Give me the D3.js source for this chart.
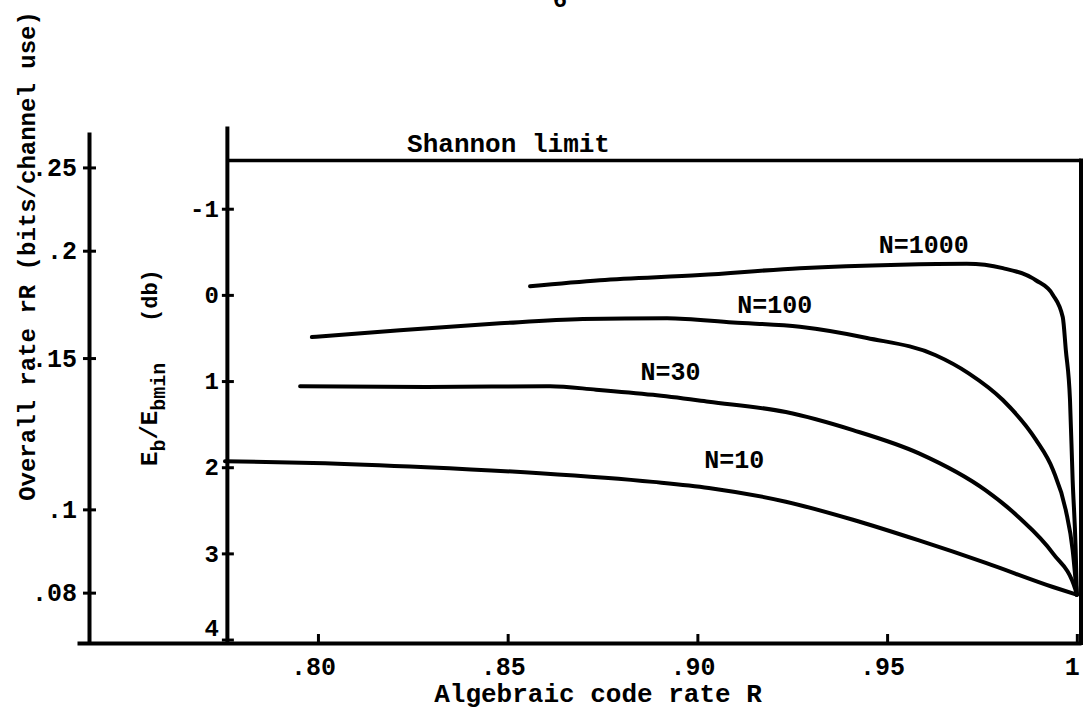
<!DOCTYPE html>
<html>
<head>
<meta charset="utf-8">
<script src="https://cdn.jsdelivr.net/npm/d3@7"></script>
<style>
  body { margin: 0; background: #fff; }
  svg { display: block; }
  text { font-family: "Liberation Mono", "DejaVu Sans Mono", monospace; font-weight: bold; fill: #000; }
</style>
</head>
<body>
<svg id="chart" width="1086" height="710"></svg>
<script>
// values
const shannon_db = -1.56;

const rate_ticks = [.25, .2, .15, .1, .08];
const rate_tick_labels = [".25", ".2", ".15", ".1", ".08"];

const db_ticks = [-1, 0, 1, 2, 3, 4];
const db_tick_labels = ["-1", "0", "1", "2", "3", "4"];

const code_rate_ticks = [.80, .85, .90, .95, 1];
const code_rate_tick_labels = [".80", ".85", ".90", ".95", "1"];

const curve_names = ["N=1000", "N=100", "N=30", "N=10"];

const n1000_r  = [.8559, .8743, .9007, .9270, .9534, .9710, .9805, .9892, .9937, .9963, .9971, .9982, .9989, .9997, 1.0];
const n1000_db = [-.10, -.17, -.23, -.31, -.35, -.36, -.31, -.17, 0.00, .26, .64, 1.22, 2.15, 2.96, 3.48];

const n100_r  = [.7984, .8216, .8480, .8698, .8920, .9094, .9270, .9447, .9628, .9715, .9805, .9892, .9937, .9971, .9989, 1.0];
const n100_db = [.49, .41, .33, .28, .27, .32, .37, .50, .70, .91, 1.22, 1.68, 2.03, 2.50, 2.96, 3.48];

const n30_r  = [.7953, .8285, .8612, .8733, .8883, .9030, .9233, .9410, .9584, .9760, .9847, .9937, .9997, 1.0];
const n30_db = [1.06, 1.07, 1.06, 1.10, 1.16, 1.24, 1.36, 1.57, 1.84, 2.27, 2.58, 3.00, 3.43, 3.48];

const n10_r  = [.7755, .7987, .8285, .8585, .8883, .9030, .9233, .9410, .9584, .9760, .9937, 1.0];
const n10_db = [1.93, 1.95, 2.00, 2.07, 2.17, 2.24, 2.40, 2.61, 2.85, 3.11, 3.39, 3.48];

const series = [
    {name: curve_names[0], r: n1000_r, db: n1000_db},
    {name: curve_names[1], r: n100_r, db: n100_db},
    {name: curve_names[2], r: n30_r, db: n30_db},
    {name: curve_names[3], r: n10_r, db: n10_db}
];

let svg = d3.select("#chart");

let x = d3.scaleLinear().domain([.7365, 1.0011]).range([77, 1081]);
let y = d3.scaleLinear().domain([-1.96, 4.04]).range([126, 643]);
let rate = d3.scaleLog().domain([.0699, .2749]).range([643, 132]);

let db_axis_x = x(.776);

function style_axis(g, fontSize) {
    g.attr("font-family", null).attr("font-size", null);
    g.select(".domain").attr("stroke", "#000").attr("stroke-width", 4);
    g.selectAll(".tick line").attr("stroke", "#000").attr("stroke-width", 3);
    g.selectAll(".tick text").style("font-size", fontSize + "px");
}

// bottom axis: algebraic code rate R
let x_axis = svg.append("g")
    .attr("transform", "translate(0," + y.range()[1] + ")")
    .call(d3.axisBottom(x).tickValues(code_rate_ticks)
        .tickFormat((d, i) => code_rate_tick_labels[i]).tickSizeOuter(0))
    .call(g => style_axis(g, 25));
x_axis.selectAll(".tick line").attr("y1", -9).attr("y2", 2);
x_axis.selectAll(".tick text").attr("y", 14).attr("dx", "-0.2em");

// left axis: overall rate (log)
let rate_axis = svg.append("g")
    .attr("transform", "translate(89,0)")
    .call(d3.axisLeft(rate).tickValues(rate_ticks)
        .tickFormat((d, i) => rate_tick_labels[i]).tickSizeOuter(0))
    .call(g => style_axis(g, 25));
rate_axis.selectAll(".tick line").attr("x1", -6).attr("x2", 7);
rate_axis.selectAll(".tick text").attr("x", -12);

// inner axis: Eb/Ebmin in dB
let db_axis = svg.append("g")
    .attr("transform", "translate(" + db_axis_x + ",0)")
    .call(d3.axisLeft(y).tickValues(db_ticks)
        .tickFormat((d, i) => db_tick_labels[i]).tickSizeOuter(0))
    .call(g => style_axis(g, 24));
db_axis.selectAll(".tick line").attr("x1", -5).attr("x2", 7);
db_axis.selectAll(".tick text").attr("x", -8);
db_axis.selectAll(".tick text").filter(d => d === 4).attr("dy", "-0.15em");

// Shannon limit and right frame
svg.append("line")
    .attr("x1", db_axis_x).attr("x2", x.range()[1])
    .attr("y1", y(shannon_db)).attr("y2", y(shannon_db))
    .attr("stroke", "#000").attr("stroke-width", 3.5);
svg.append("line")
    .attr("x1", x.range()[1]).attr("x2", x.range()[1])
    .attr("y1", y(shannon_db) - 2).attr("y2", y.range()[1] + 2)
    .attr("stroke", "#000").attr("stroke-width", 4);
svg.append("text")
    .attr("x", x(.8235)).attr("y", y(shannon_db) - 8)
    .style("font-size", "26px")
    .text("Shannon limit");

// curves
let line = d3.line()
    .x(d => x(d[0]))
    .y(d => y(d[1]))
    .curve(d3.curveMonotoneX);

svg.append("g")
    .selectAll("path").data(series).join("path")
    .attr("d", s => line(s.r.map((r, i) => [r, s.db[i]])))
    .attr("fill", "none")
    .attr("stroke", "#000")
    .attr("stroke-width", 4)
    .attr("stroke-linecap", "round");

// curve labels, placed in data coordinates
let label_pos = [[.9478, -.49], [.9105, .21], [.8850, .99], [.9018, 2.01]];
svg.append("g")
    .selectAll("text").data(series).join("text")
    .attr("x", (s, i) => x(label_pos[i][0]))
    .attr("y", (s, i) => y(label_pos[i][1]))
    .style("font-size", "25px")
    .text(s => s.name);

// axis titles
svg.append("text")
    .attr("x", 598).attr("y", 702)
    .attr("text-anchor", "middle")
    .style("font-size", "26px")
    .text("Algebraic code rate R");

svg.append("text")
    .attr("transform", "translate(35,256) rotate(-90)")
    .attr("text-anchor", "middle")
    .style("font-size", "24px")
    .text("Overall rate rR (bits/channel use)");

let eb = svg.append("text")
    .attr("transform", "translate(157,466) rotate(-90)")
    .style("font-size", "24px");
eb.append("tspan").text("E");
eb.append("tspan").attr("dy", 8).style("font-size", "20px").text("b");
eb.append("tspan").attr("dy", -8).text("/E");
eb.append("tspan").attr("dy", 8).style("font-size", "20px").text("bmin");

svg.append("text")
    .attr("transform", "translate(157,322) rotate(-90)")
    .style("font-size", "22px")
    .text("(db)");

// clipped page number at the very top of the scan
svg.append("text")
    .attr("x", 560).attr("y", 7)
    .attr("text-anchor", "middle")
    .style("font-size", "24px")
    .text("6");
</script>
</body>
</html>
